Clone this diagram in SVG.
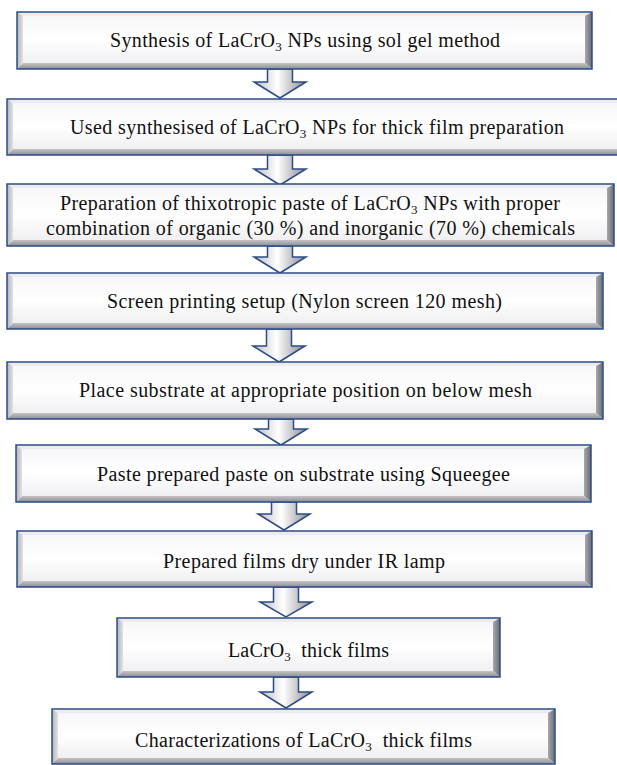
<svg xmlns="http://www.w3.org/2000/svg" width="617" height="765" viewBox="0 0 617 765">
<style>
.bt{fill:#ECECEE}
.bl{fill:url(#gl)}
.br{fill:url(#gr)}
.bb{fill:url(#gb)}
.face{fill:url(#gf)}
.frame{fill:none;stroke:#2D4C86;stroke-width:1.5}
.arr{fill:url(#ga);stroke:#2D4C86;stroke-width:1.5;stroke-linejoin:miter}
</style>
<defs>
<linearGradient id="gf" x1="0" y1="0" x2="0" y2="1"><stop offset="0" stop-color="#F7F7F9"/><stop offset="0.5" stop-color="#FFFFFF"/><stop offset="1" stop-color="#F0F0F2"/></linearGradient>
<linearGradient id="gl" x1="0" y1="0" x2="1" y2="0"><stop offset="0" stop-color="#B4B4B8"/><stop offset="1" stop-color="#E2E2E4"/></linearGradient>
<linearGradient id="gr" x1="0" y1="0" x2="1" y2="0"><stop offset="0" stop-color="#A8A8AE"/><stop offset="1" stop-color="#6A6A72"/></linearGradient>
<linearGradient id="gb" x1="0" y1="0" x2="0" y2="1"><stop offset="0" stop-color="#C4C4C8"/><stop offset="1" stop-color="#8C8C92"/></linearGradient>
<linearGradient id="ga" x1="0" y1="0" x2="1" y2="0"><stop offset="0" stop-color="#BEBEC3"/><stop offset="0.45" stop-color="#FFFFFF"/><stop offset="1" stop-color="#8A8A90"/></linearGradient>
</defs>

<g id="connectors">
<polygon class="arr" points="267.5,69 292.5,69 292.5,82 306,82 280,98 254,82 267.5,82"/>
<polygon class="arr" points="267.5,155 292.5,155 292.5,169 306,169 280,185 254,169 267.5,169"/>
<polygon class="arr" points="267.5,246 292.5,246 292.5,257 306,257 280,273 254,257 267.5,257"/>
<polygon class="arr" points="266.5,329 291.5,329 291.5,346 305,346 279,362 253,346 266.5,346"/>
<polygon class="arr" points="268.5,419 293.5,419 293.5,429 307,429 281,445 255,429 268.5,429"/>
<polygon class="arr" points="271.5,502 296.5,502 296.5,514 310,514 284,530 258,514 271.5,514"/>
<polygon class="arr" points="273.5,587 298.5,587 298.5,602 312,602 286,617 260,602 273.5,602"/>
<polygon class="arr" points="273.5,677 298.5,677 298.5,692 312,692 286,708 260,692 273.5,692"/>
</g>

<g font-family="Liberation Serif" font-size="20" fill="#111111">
<g id="n1">
<polygon class="bt" points="17,12 592,12 585,16 23,16"/>
<polygon class="bl" points="17,12 23,16 23,63 17,69"/>
<polygon class="br" points="592,12 592,69 585,63 585,16"/>
<polygon class="bb" points="17,69 23,63 585,63 592,69"/>
<rect class="face" x="23" y="16" width="562" height="47"/>
<rect class="frame" x="17" y="12" width="575" height="57"/>
<text x="110" y="47" textLength="390" lengthAdjust="spacing">Synthesis of LaCrO<tspan font-size="13" dy="4">3</tspan><tspan dy="-4"> NPs using sol gel method</tspan></text>
</g>

<g id="n2">
<polygon class="bt" points="7,99 628,99 621,103 13,103"/>
<polygon class="bl" points="7,99 13,103 13,149 7,155"/>
<polygon class="br" points="628,99 628,155 621,149 621,103"/>
<polygon class="bb" points="7,155 13,149 621,149 628,155"/>
<rect class="face" x="13" y="103" width="608" height="46"/>
<rect class="frame" x="7" y="99" width="621" height="56"/>
<text x="70" y="134" textLength="494" lengthAdjust="spacing">Used synthesised of LaCrO<tspan font-size="13" dy="4">3</tspan><tspan dy="-4"> NPs for thick film preparation</tspan></text>
</g>

<g id="n3">
<polygon class="bt" points="7,184 614,184 607,188 13,188"/>
<polygon class="bl" points="7,184 13,188 13,240 7,246"/>
<polygon class="br" points="614,184 614,246 607,240 607,188"/>
<polygon class="bb" points="7,246 13,240 607,240 614,246"/>
<rect class="face" x="13" y="188" width="594" height="52"/>
<rect class="frame" x="7" y="184" width="607" height="62"/>
<text x="60" y="210" textLength="500" lengthAdjust="spacing">Preparation of thixotropic paste of LaCrO<tspan font-size="13" dy="4">3</tspan><tspan dy="-4"> NPs with proper</tspan></text>
<text x="46" y="235" textLength="529" lengthAdjust="spacing">combination of organic (30 %) and inorganic (70 %) chemicals</text>
</g>

<g id="n4">
<polygon class="bt" points="7,273 603,273 596,277 13,277"/>
<polygon class="bl" points="7,273 13,277 13,323 7,329"/>
<polygon class="br" points="603,273 603,329 596,323 596,277"/>
<polygon class="bb" points="7,329 13,323 596,323 603,329"/>
<rect class="face" x="13" y="277" width="583" height="46"/>
<rect class="frame" x="7" y="273" width="596" height="56"/>
<text x="107" y="308" textLength="395" lengthAdjust="spacing">Screen printing setup (Nylon screen 120 mesh)</text>
</g>

<g id="n5">
<polygon class="bt" points="7,362 603,362 596,366 13,366"/>
<polygon class="bl" points="7,362 13,366 13,413 7,419"/>
<polygon class="br" points="603,362 603,419 596,413 596,366"/>
<polygon class="bb" points="7,419 13,413 596,413 603,419"/>
<rect class="face" x="13" y="366" width="583" height="47"/>
<rect class="frame" x="7" y="362" width="596" height="57"/>
<text x="79" y="397" textLength="453" lengthAdjust="spacing">Place substrate at appropriate position on below mesh</text>
</g>

<g id="n6">
<polygon class="bt" points="16,445 591,445 584,449 22,449"/>
<polygon class="bl" points="16,445 22,449 22,496 16,502"/>
<polygon class="br" points="591,445 591,502 584,496 584,449"/>
<polygon class="bb" points="16,502 22,496 584,496 591,502"/>
<rect class="face" x="22" y="449" width="562" height="47"/>
<rect class="frame" x="16" y="445" width="575" height="57"/>
<text x="97" y="481" textLength="413" lengthAdjust="spacing">Paste prepared paste on substrate using Squeegee</text>
</g>

<g id="n7">
<polygon class="bt" points="17,531 592,531 585,535 23,535"/>
<polygon class="bl" points="17,531 23,535 23,581 17,587"/>
<polygon class="br" points="592,531 592,587 585,581 585,535"/>
<polygon class="bb" points="17,587 23,581 585,581 592,587"/>
<rect class="face" x="23" y="535" width="562" height="46"/>
<rect class="frame" x="17" y="531" width="575" height="56"/>
<text x="163" y="568" textLength="282" lengthAdjust="spacing">Prepared films dry under IR lamp</text>
</g>

<g id="n8">
<polygon class="bt" points="117,618 500,618 493,622 123,622"/>
<polygon class="bl" points="117,618 123,622 123,671 117,677"/>
<polygon class="br" points="500,618 500,677 493,671 493,622"/>
<polygon class="bb" points="117,677 123,671 493,671 500,677"/>
<rect class="face" x="123" y="622" width="370" height="49"/>
<rect class="frame" x="117" y="618" width="383" height="59"/>
<text x="228" y="657" textLength="161" lengthAdjust="spacing" xml:space="preserve">LaCrO<tspan font-size="13" dy="4">3</tspan><tspan dy="-4">  thick films</tspan></text>
</g>

<g id="n9">
<polygon class="bt" points="52,709 555,709 548,713 58,713"/>
<polygon class="bl" points="52,709 58,713 58,758 52,764"/>
<polygon class="br" points="555,709 555,764 548,758 548,713"/>
<polygon class="bb" points="52,764 58,758 548,758 555,764"/>
<rect class="face" x="58" y="713" width="490" height="45"/>
<rect class="frame" x="52" y="709" width="503" height="55"/>
<text x="135" y="747" textLength="337" lengthAdjust="spacing" xml:space="preserve">Characterizations of LaCrO<tspan font-size="13" dy="4">3</tspan><tspan dy="-4">  thick films</tspan></text>
</g>
</g>
</svg>
